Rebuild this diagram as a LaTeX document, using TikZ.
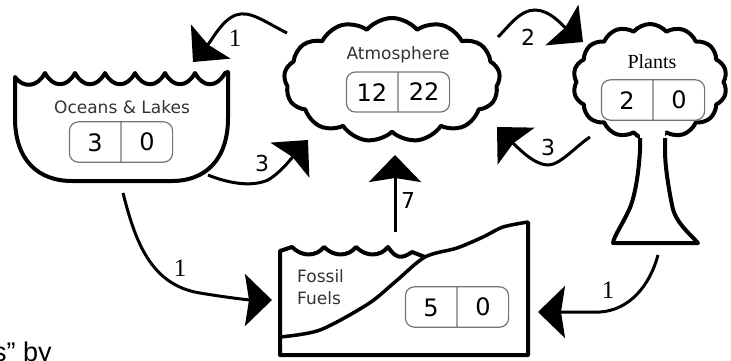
\documentclass[tikz,border=0pt]{standalone}
\usepackage{fontspec}
\usepackage{tikz}
\usetikzlibrary{shapes.symbols,shapes.multipart,arrows.meta}
\newfontfamily\labelfont{DejaVu Sans}
\newfontfamily\plantfont{Liberation Serif}
\newfontfamily\notefont{Liberation Sans}

\tikzset{
  flow/.style={line width=3pt, -{Stealth[length=27pt,width=52pt,inset=4pt]}},
  outline/.style={line width=4pt, line join=round},
  valbox/.style={rectangle split, rectangle split horizontal, rectangle split parts=2,
    draw=black!55, line width=1.2pt, rounded corners=9pt, text width=51pt, align=center,
    inner xsep=0pt, inner ysep=11pt, text height=18pt, text depth=0pt,
    font=\labelfont\fontsize{24}{26}\selectfont},
  tag/.style={font=\labelfont\fontsize{17}{22}\selectfont, text=black!80, inner sep=0pt},
  num/.style={font=\labelfont\fontsize{22}{24}\selectfont, inner sep=0pt},
  numone/.style={font=\plantfont\fontsize{25}{26}\selectfont, inner sep=0pt},
}

\begin{document}
\begin{tikzpicture}[x=1pt, y=-1pt]
    \useasboundingbox (0,0) rectangle (731,360);

    % oceans & lakes bowl
    \draw[outline] (15,77) foreach \i in {0,...,6} {
        .. controls ({15+30*\i+8},88) and ({15+30*\i+22},88) .. ({15+30*\i+30},73)}
        -- (228,72) -- (228,118) .. controls (228,160) and (205,181) .. (172,181)
        -- (72,181) .. controls (38,181) and (15,160) .. (15,118) -- cycle;
    \node[tag] (ocean) at (122,107) {Oceans \& Lakes};
    \node[valbox] (oceanval) at (121,142) {3\nodepart{two}0};

    % atmosphere
    \node[cloud, draw, outline, cloud puffs=13, cloud puff arc=100, cloud ignores aspect,
        minimum width=216pt, minimum height=124pt] (atm) at (392,80) {};
    \node[tag] (atmlabel) at (398,55) {Atmosphere};
    \node[valbox] (atmval) at (398,92) {12\nodepart{two}22};

    % plants
    \node[cloud, draw, outline, fill=white, cloud puffs=14, cloud puff arc=100, cloud ignores aspect,
        minimum width=154pt, minimum height=116pt] (crown) at (650,82) {};
    \fill[white] (640,120) -- (640,150) .. controls (638,185) and (632,205) .. (628,212)
        .. controls (622,225) and (614,236) .. (613,243) -- (698,243)
        .. controls (688,232) and (675,222) .. (672,205)
        .. controls (668,185) and (665,165) .. (665,150) -- (665,120) -- cycle;
    \draw[outline] (640,138) -- (640,150) .. controls (638,185) and (632,205) .. (628,212)
        .. controls (622,225) and (614,236) .. (613,243) -- (698,243)
        .. controls (688,232) and (675,222) .. (672,205)
        .. controls (668,185) and (665,165) .. (665,150) -- (665,138);
    \node[font=\plantfont\fontsize{20}{22}\selectfont, inner sep=0pt] (plants) at (652,62) {Plants};
    \node[valbox] (plantval) at (653,100) {2\nodepart{two}0};

    % fossil fuels
    \draw[outline] (425,257) -- (412,252) .. controls (402,259) and (396,259) .. (388,247)
        .. controls (380,257) and (366,257) .. (356,247)
        .. controls (348,257) and (334,257) .. (324,247)
        .. controls (316,257) and (302,257) .. (292,247)
        -- (280,251) -- (280,355) -- (528,355) -- (528,222);
    \draw[line width=3.5pt, line cap=round] plot[smooth] coordinates {(280,337) (320,330) (368,304)
        (395,282) (425,257) (457,248) (483,237) (503,227) (528,222)};
    \node[tag, align=left, anchor=west] (fossil) at (297,287) {Fossil\\Fuels};
    \node[valbox] (fosval) at (457,307) {5\nodepart{two}0};

    % flows
    \coordinate (atm-out1) at (287,33);
    \coordinate (ocean-in) at (193,62);
    \coordinate (atm-out2) at (498,37);
    \coordinate (crown-in) at (583,42);
    \coordinate (crown-out) at (590,137);
    \coordinate (atm-in3) at (497,127);
    \coordinate (ocean-out3) at (208,175);
    \coordinate (atm-in1) at (308,140);
    \coordinate (fos-out) at (395,232);
    \coordinate (atm-in7) at (395,155);
    \coordinate (ocean-out1) at (123,193);
    \coordinate (fos-inl) at (272,300);
    \coordinate (trunk-out) at (658,255);
    \coordinate (fos-inr) at (538,312);

    \draw[flow] (atm-out1) .. controls (265,22) and (250,10) .. (236,15)
        .. controls (222,20) and (212,40) .. (ocean-in);
    \draw[flow] (atm-out2) .. controls (510,25) and (520,10) .. (535,10)
        .. controls (550,10) and (562,25) .. (crown-in);
    \draw[flow] (crown-out) .. controls (575,147) and (560,165) .. (548,165)
        .. controls (535,165) and (520,150) .. (atm-in3);
    \draw[flow] (ocean-out3) .. controls (225,182) and (250,188) .. (268,180)
        .. controls (280,173) and (290,160) .. (atm-in1);
    \draw[flow] (fos-out) -- (atm-in7);
    \draw[flow] (ocean-out1) .. controls (135,240) and (150,285) .. (200,293)
        .. controls (230,298) and (250,300) .. (fos-inl);
    \draw[flow] (trunk-out) .. controls (650,285) and (630,310) .. (600,312) -- (fos-inr);

    \node[numone] (n1a) at (235,38) {1};
    \node[num] (n2) at (528,37) {2};
    \node[num] (n3a) at (548,147) {3};
    \node[num] (n3b) at (262,163) {3};
    \node[num] (n7) at (408,200) {7};
    \node[numone] (n1b) at (180,268) {1};
    \node[numone] (n1c) at (608,290) {1};

    \node[font=\notefont\fontsize{27}{30}\selectfont, anchor=base west, inner sep=0pt] (credit) at (-7,361) {s” by};
\end{tikzpicture}
\end{document}
